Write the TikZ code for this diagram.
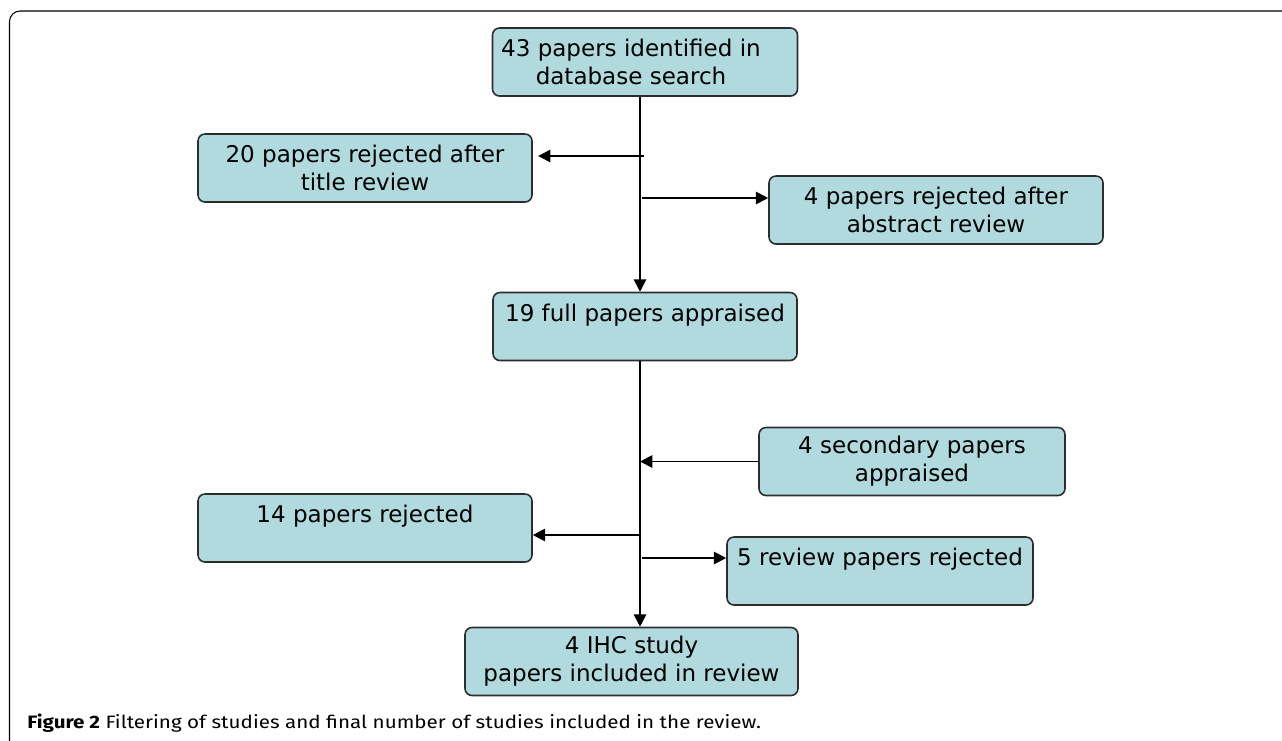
\documentclass[tikz,border=0pt]{standalone}
\usepackage{fontspec}
\setmainfont{Fira Sans}
\newfontfamily\capfont[FakeStretch=1.15]{Fira Sans}
\newfontfamily\boxfont{DejaVu Sans}
\usetikzlibrary{positioning}
\usetikzlibrary{arrows.meta}

\definecolor{boxfill}{RGB}{176,218,222}
\definecolor{boxline}{RGB}{45,45,45}

\begin{document}
\begin{tikzpicture}[
        stage/.style={
            draw=boxline,
            line width=0.9pt,
            fill=boxfill,
            rounded corners=4pt,
            align=center,
            minimum height=1.36cm,
            inner sep=0pt,
            font=\boxfont\fontsize{13.1}{15.9}\selectfont,
        },
        flow/.style={
            -{Triangle[length=7pt,width=7pt]},
            line width=1.1pt,
        },
    ]
    \useasboundingbox (0,0) rectangle (25.64,-14.8);
    \clip (0,0) rectangle (25.64,-14.8);

    % Outer frame.
    \draw[line width=0.6pt, rounded corners=6pt] (0.19,-14.9) |- (26.5,-0.22);

    % Define stages.
    \node[stage, minimum width=6.1cm] (found) at (12.9,-1.24) {43 papers identified in\hspace*{0.56cm}\\database search\hspace*{0.56cm}};
    \node[stage, minimum width=6.68cm] (title) at (7.3,-3.36) {20 papers rejected after\\title review};
    \node[stage, minimum width=6.68cm] (abstract) at (18.72,-4.2) {4 papers rejected after\\abstract review};
    \node[stage, minimum width=6.08cm] (full) at (12.9,-6.53) {19 full papers appraised\\\mbox{}};
    \node[stage, minimum width=6.12cm] (second) at (18.24,-9.23) {4 secondary papers\\appraised};
    \node[stage, minimum width=6.68cm] (rejected) at (7.3,-10.56) {14 papers rejected\\\mbox{}};
    \node[stage, minimum width=6.12cm] (review) at (17.6,-11.42) {5 review papers rejected\\\mbox{}};
    \node[stage, minimum width=6.66cm] (included) at (12.63,-13.23) {4 IHC study\\papers included in review};

    % Define branch points on the spine.
    \coordinate (spine) at (12.8,0);
    \coordinate (t1) at (12.88,-3.12);
    \coordinate (t2) at (12.84,-3.96);
    \coordinate (t3) at (12.78,-10.7);
    \coordinate (t4) at (12.84,-11.16);

    % Draw spine.
    \draw[flow] (found.south -| spine) to (full.north -| spine);
    \draw[flow] (full.south -| spine) to (included.north -| spine);

    % Draw branches.
    \draw[flow, shorten >=3pt] (t1) to (t1 -| title.east);
    \draw[flow] (t2) to (t2 -| abstract.west);
    \draw[flow] (second.west) to (second.west -| spine);
    \draw[flow] (t3) to (t3 -| rejected.east);
    \draw[flow] (t4) to (t4 -| review.west);

    % Caption.
    \node[anchor=base west, inner sep=0pt, font=\capfont\fontsize{10.2}{12}\selectfont] (caption) at (0.54,-14.56)
        {\textbf{Figure 2} Filtering of studies and final number of studies included in the review.};
\end{tikzpicture}
\end{document}
